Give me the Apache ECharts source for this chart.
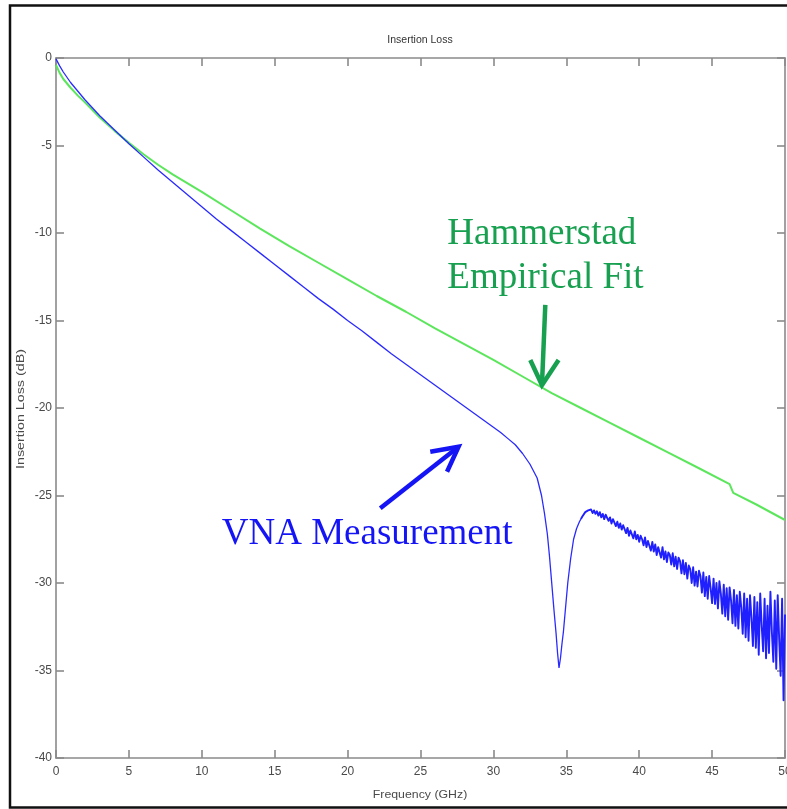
<!DOCTYPE html>
<html><head><meta charset="utf-8">
<script src="https://cdn.jsdelivr.net/npm/echarts@6/dist/echarts.min.js"></script>
<style>html,body{margin:0;padding:0;background:#fff;overflow:hidden}#c{width:787px;height:809px}</style>
</head><body><div id="c"></div>
<script>
const chartTitle = 'Insertion Loss';
const xAxisName = 'Frequency (GHz)';
const yAxisName = 'Insertion Loss (dB)';
const xTickLabels = [0, 5, 10, 15, 20, 25, 30, 35, 40, 45, 50];
const yTickLabels = [-40, -35, -30, -25, -20, -15, -10, -5, 0];

// Hammerstad empirical fit (green)
const hammerstadFreq = [0, 0.25, 0.5, 1, 1.5, 2, 3, 4, 5, 6, 7, 8, 9, 10, 12, 14, 16, 18, 20, 22, 24, 26, 28, 30, 32, 34, 36, 38, 40, 42, 44, 46.2, 46.45, 48, 50];
const hammerstadLoss = [-0.4, -0.85, -1.2, -1.7, -2.15, -2.55, -3.4, -4.15, -4.85, -5.5, -6.1, -6.65, -7.15, -7.65, -8.7, -9.75, -10.75, -11.7, -12.65, -13.6, -14.5, -15.45, -16.35, -17.25, -18.2, -19.15, -20.0, -20.85, -21.7, -22.55, -23.4, -24.35, -24.85, -25.5, -26.4];

// VNA measurement (blue) - smooth part and resonance dip
const vnaFreq = [0, 0.25, 0.5, 1, 1.5, 2, 3, 4, 5, 6, 7, 8, 9, 10, 11, 12, 13, 14, 15, 16, 17, 18, 19, 20, 21, 22, 23, 24, 25, 26, 27, 28, 29, 30, 30.5, 31, 31.5, 32, 32.5, 33, 33.3, 33.5, 33.7, 33.85, 34, 34.15, 34.3, 34.4, 34.5, 34.6, 34.7, 34.8, 34.95, 35.1, 35.3, 35.5, 35.7, 35.9, 36.0];
const vnaLoss = [-0.05, -0.45, -0.8, -1.4, -1.9, -2.4, -3.3, -4.1, -4.9, -5.65, -6.4, -7.1, -7.8, -8.5, -9.2, -9.85, -10.5, -11.15, -11.8, -12.45, -13.1, -13.75, -14.35, -15.0, -15.6, -16.25, -16.9, -17.5, -18.1, -18.7, -19.3, -19.9, -20.5, -21.1, -21.4, -21.75, -22.1, -22.6, -23.2, -24.0, -25.0, -26.0, -27.2, -28.5, -30.0, -31.5, -32.9, -34.0, -34.85, -34.3, -33.5, -32.8, -31.4, -30.0, -28.6, -27.5, -26.9, -26.5, -26.35];

// VNA measurement (blue) - noisy high-frequency part [GHz, dB]
const vnaNoisy = [
[36.0,-26.35],[36.1,-26.2],[36.2,-26.15],[36.3,-25.95],[36.4,-26.05],[36.5,-25.85],[36.6,-25.95],[36.7,-25.8],[36.8,-26.0],[36.9,-25.85],
[37.0,-26.05],[37.1,-25.9],[37.2,-26.15],[37.3,-25.95],[37.4,-26.25],[37.5,-26.05],[37.6,-26.35],[37.7,-26.1],[37.8,-26.2],[37.9,-26.45],
[38.0,-26.25],[38.1,-26.6],[38.2,-26.35],[38.3,-26.45],[38.4,-26.75],[38.5,-26.5],[38.6,-26.85],[38.7,-26.6],[38.8,-26.95],[38.9,-26.7],
[39.0,-26.8],[39.1,-27.15],[39.2,-26.85],[39.3,-27.3],[39.4,-27.0],[39.5,-27.1],[39.6,-27.45],[39.7,-27.05],[39.8,-27.5],[39.9,-27.25],
[40.0,-27.65],[40.1,-27.3],[40.2,-27.5],[40.3,-27.85],[40.4,-27.4],[40.5,-27.95],[40.6,-27.6],[40.7,-27.7],[40.8,-28.15],[40.9,-27.65],
[41.0,-28.2],[41.1,-27.8],[41.2,-28.4],[41.3,-27.95],[41.4,-28.05],[41.5,-28.55],[41.6,-27.95],[41.7,-28.65],[41.8,-28.2],[41.9,-28.8],
[42.0,-28.25],[42.1,-28.4],[42.2,-28.95],[42.3,-28.3],[42.4,-29.05],[42.5,-28.5],[42.6,-29.2],[42.7,-28.55],[42.8,-28.75],[42.9,-29.45],
[43.0,-28.7],[43.1,-29.5],[43.2,-28.85],[43.3,-29.75],[43.4,-29.0],[43.5,-29.2],[43.6,-30.0],[43.7,-29.1],[43.8,-30.15],[43.9,-29.35],
[44.0,-30.2],[44.1,-29.3],[44.2,-29.6],[44.3,-30.55],[44.4,-29.4],[44.5,-30.75],[44.6,-29.65],[44.7,-30.9],[44.8,-29.6],[44.9,-30.3],
[45.0,-31.15],[45.1,-29.75],[45.2,-31.2],[45.3,-30.0],[45.4,-31.45],[45.5,-29.9],[45.6,-30.6],[45.7,-31.75],[45.8,-30.1],[45.9,-31.9],
[46.0,-30.3],[46.1,-32.1],[46.2,-30.25],[46.3,-31.0],[46.4,-32.3],[46.5,-30.4],[46.6,-32.45],[46.7,-30.7],[46.8,-32.6],[46.9,-30.5],
[47.0,-31.4],[47.1,-32.9],[47.2,-30.6],[47.3,-33.1],[47.4,-30.9],[47.5,-33.3],[47.6,-30.7],[47.7,-32.0],[47.8,-33.6],[47.9,-30.8],
[48.0,-33.7],[48.1,-31.1],[48.2,-34.1],[48.3,-30.6],[48.4,-32.4],[48.5,-33.9],[48.6,-30.9],[48.7,-34.3],[48.8,-31.3],[48.9,-34.0],
[49.0,-30.5],[49.1,-32.8],[49.2,-34.5],[49.3,-31.0],[49.4,-34.9],[49.5,-30.7],[49.6,-33.2],[49.7,-35.3],[49.8,-30.9],[49.9,-36.7],
[50.0,-31.8]
];

// Annotation texts
const hammerstadLabel = ['Hammerstad', 'Empirical Fit'];
const vnaLabel = 'VNA Measurement';

const zip = (a, b) => a.map((v, i) => [v, b[i]]);
const hammerstadData = zip(hammerstadFreq, hammerstadLoss);
const vnaData = zip(vnaFreq, vnaLoss);

const GREEN_TXT = '#17a04f';
const BLUE_TXT = '#1414f5';
const AXIS_COL = '#8a8a8a';
const LBL_COL = '#4a4a4a';
const LBL_FONT = '"Liberation Sans Narrow", "Liberation Sans", sans-serif';

const chart = echarts.init(document.getElementById('c'), null, {renderer: 'canvas'});

function axisCommon(show) {
  return {
    type: 'value',
    interval: 5,
    axisLine: {show: true, onZero: false, lineStyle: {color: AXIS_COL, width: 1.6}},
    axisTick: {show: true, inside: true, length: 8, lineStyle: {color: AXIS_COL, width: 1.6}},
    splitLine: {show: false},
    axisLabel: {show: show, color: LBL_COL, fontFamily: LBL_FONT, fontSize: 12}
  };
}

const xBottom = Object.assign(axisCommon(true), {min: 0, max: 50, position: 'bottom'});
xBottom.axisLabel.margin = 8;
xBottom.axisLabel.formatter = v => String(v);
const xTop = Object.assign(axisCommon(false), {min: 0, max: 50, position: 'top'});
const yLeft = Object.assign(axisCommon(true), {min: -40, max: 0, position: 'left'});
yLeft.axisLabel.margin = 4;
const yRight = Object.assign(axisCommon(false), {min: -40, max: 0, position: 'right'});

chart.setOption({
  animation: false,
  backgroundColor: '#ffffff',
  grid: {left: 56, right: 2, top: 58, bottom: 51, containLabel: false, outerBoundsMode: 'none'},
  xAxis: [xBottom, xTop],
  yAxis: [yLeft, yRight],
  series: [
    {type: 'line', name: 'Hammerstad', data: hammerstadData, showSymbol: false, symbol: 'none',
     lineStyle: {color: '#5ce65c', width: 2}, z: 2, clip: true},
    {type: 'line', name: 'VNA', data: vnaData, showSymbol: false, symbol: 'none',
     lineStyle: {color: '#2a2aff', width: 1.3}, z: 3, clip: true},
    {type: 'line', name: 'VNA noisy', data: vnaNoisy, showSymbol: false, symbol: 'none',
     lineStyle: {color: '#2020ff', width: 1.9, join: 'round'}, z: 3, clip: true}
  ]
});

function px(p) { return chart.convertToPixel({xAxisIndex: 0, yAxisIndex: 0}, p); }

function arrow(tail, tip, w1, w2, color) {
  const t = px(tail), h = px(tip), a = px(w1), b = px(w2);
  return [
    {type: 'polyline', shape: {points: [t, h]}, style: {stroke: color, lineWidth: 4.5, fill: null, lineCap: 'butt'}, z: 10},
    {type: 'polyline', shape: {points: [a, h, b]}, style: {stroke: color, lineWidth: 4.5, fill: null, lineJoin: 'miter'}, z: 10}
  ];
}

function txt(p, text, color) {
  const q = px(p);
  return {type: 'text', x: q[0], y: q[1], z: 10,
    style: {text: text, fill: color, font: '37px "Liberation Serif", "Times New Roman", serif',
      align: 'left', verticalAlign: 'middle', textAlign: 'left', textVerticalAlign: 'middle'}};
}

const graphics = [
  {type: 'rect', shape: {x: 10, y: 5.5, width: 800, height: 802}, style: {stroke: '#111', lineWidth: 2.5, fill: null}, z: 20, silent: true},
  {type: 'text', x: 420, y: 40, style: {text: chartTitle, fill: '#333', font: '10.5px "Liberation Sans", sans-serif', align: 'center', verticalAlign: 'middle', textAlign: 'center', textVerticalAlign: 'middle'}},
  {type: 'text', x: 420, y: 795, scaleX: 1.12, style: {text: xAxisName, fill: LBL_COL, font: '11px "Liberation Sans", sans-serif', align: 'center', verticalAlign: 'middle', textAlign: 'center', textVerticalAlign: 'middle'}},
  {type: 'text', x: 21, y: 409, rotation: Math.PI / 2, scaleX: 1.3, style: {text: yAxisName, fill: LBL_COL, font: '11px "Liberation Sans", sans-serif', align: 'center', verticalAlign: 'middle', textAlign: 'center', textVerticalAlign: 'middle'}},
  txt([26.84, -10.09], hammerstadLabel[0], GREEN_TXT),
  txt([26.84, -12.57], hammerstadLabel[1], GREEN_TXT),
  txt([11.37, -27.23], vnaLabel, BLUE_TXT)
].concat(
  arrow([33.56, -14.11], [33.33, -18.69], [32.53, -17.26], [34.47, -17.26], GREEN_TXT),
  arrow([22.24, -25.73], [27.61, -22.21], [25.67, -22.5], [26.82, -23.64], BLUE_TXT)
);

chart.setOption({graphic: graphics});
</script>
</body></html>
